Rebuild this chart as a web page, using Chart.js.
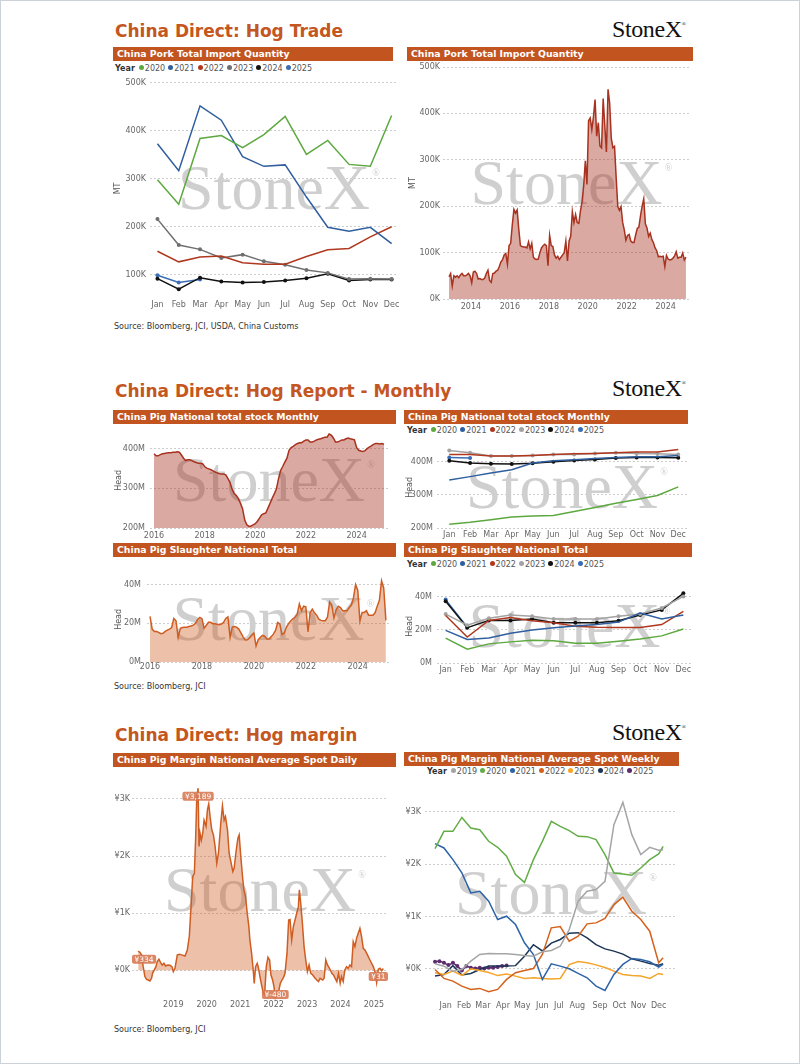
<!DOCTYPE html>
<html><head><meta charset="utf-8">
<title>China Direct: Hog</title>
<script src="https://cdn.jsdelivr.net/npm/chart.js@4.4.1/dist/chart.umd.min.js"></script>
<style>
html,body{margin:0;padding:0;background:#fff}
body{position:relative;width:800px;height:1064px;overflow:hidden;font-family:'DejaVu Sans',sans-serif}
#frame{position:absolute;left:0;top:0;width:798px;height:1062px;border:1px solid #cdd2da}
.ttl{position:absolute;left:115px;height:20px;line-height:20px;font-weight:bold;font-size:17px;color:#c4561f;white-space:nowrap}
.logo{position:absolute;left:612px;height:26px;line-height:26px;font-family:'Liberation Serif',serif;font-size:24px;color:#111;letter-spacing:-0.4px}
.logo span{font-size:6px;vertical-align:top;line-height:16px}
.bar{position:absolute;height:14px;line-height:14px;background:#c2541f;color:#fff;font-weight:bold;font-size:9.3px;padding-left:4px;box-sizing:border-box;white-space:nowrap;overflow:hidden}
.lg{position:absolute;height:10px;line-height:10px;font-size:8px;color:#555;white-space:nowrap}
.lg b{color:#333;margin-right:1px}
.lg i{display:inline-block;width:5px;height:5px;border-radius:50%;margin:0 1px 0 3px;vertical-align:1px}
.src{position:absolute;left:114px;height:11px;line-height:11px;font-size:8px;color:#333;white-space:nowrap}
canvas{position:absolute}
</style></head><body>
<div id="frame"></div>

<div class="ttl" style="top:21px">China Direct: Hog Trade</div>
<div class="logo" style="top:16px">StoneX<span>®</span></div>
<div class="bar" style="left:113px;top:47px;width:280px">China Pork Total Import Quantity</div>
<div class="bar" style="left:407px;top:47px;width:286px">China Pork Total Import Quantity</div>
<div class="lg" id="lgImp" style="left:115px;top:64px"></div>
<canvas id="cImp"></canvas>
<canvas id="cImpM"></canvas>
<div class="src" style="top:321px">Source: Bloomberg, JCI, USDA, China Customs</div>

<div class="ttl" style="top:381px">China Direct: Hog Report - Monthly</div>
<div class="logo" style="top:375px">StoneX<span>®</span></div>
<div class="bar" style="left:113px;top:410px;width:283px">China Pig National total stock Monthly</div>
<div class="bar" style="left:404px;top:410px;width:284px">China Pig National total stock Monthly</div>
<div class="lg" id="lgStock" style="left:407px;top:426px"></div>
<canvas id="cStock"></canvas>
<canvas id="cStockY"></canvas>
<div class="bar" style="left:113px;top:543px;width:283px">China Pig Slaughter National Total</div>
<div class="bar" style="left:404px;top:543px;width:288px">China Pig Slaughter National Total</div>
<div class="lg" id="lgSl" style="left:407px;top:560px"></div>
<canvas id="cSl"></canvas>
<canvas id="cSlY"></canvas>
<div class="src" style="top:681px">Source: Bloomberg, JCI</div>

<div class="ttl" style="top:725px">China Direct: Hog margin</div>
<div class="logo" style="top:719px">StoneX<span>®</span></div>
<div class="bar" style="left:113px;top:753px;width:283px">China Pig Margin National Average Spot Daily</div>
<div class="bar" style="left:404px;top:752px;width:275px">China Pig Margin National Average Spot Weekly</div>
<div class="lg" id="lgWk" style="left:427px;top:767px"></div>
<canvas id="cDaily"></canvas>
<canvas id="cWeekly"></canvas>
<div class="src" style="top:1024px">Source: Bloomberg, JCI</div>

<script>
Chart.defaults.font.family = '"DejaVu Sans", sans-serif';
Chart.defaults.font.size = 8;
Chart.defaults.color = '#666';

const months = ['Jan','Feb','Mar','Apr','May','Jun','Jul','Aug','Sep','Oct','Nov','Dec'];
const monthPos = [0,1,2,3,4,5,6,7,8,9,10,11];

// pork import quantity, thousand MT
const imp2013 = [48,55,28,50,47,50,46,52,55,50,50,52];
const imp2014 = [55,50,35,58,60,55,43,44,42,42,45,55];
const imp2015 = [62,40,36,55,56,60,62,70,80,85,95,98];
const imp2016 = [75,115,120,160,193,185,192,150,115,113,112,112];
const imp2017 = [110,123,108,120,90,86,85,86,100,110,115,118];
const imp2018 = [115,72,137,115,113,95,88,92,85,90,95,100];
const imp2019 = [125,82,125,135,188,165,182,165,163,190,210,245];
const imp2020 = [298,247,384,390,365,392,430,351,380,330,326,432];
const imp2021 = [373,317,452,422,346,326,329,262,199,191,199,165];
const imp2022 = [149,127,137,139,125,122,122,138,152,155,179,200];
const imp2023 = [216,162,153,135,142,128,121,110,104,91,92,91];
const imp2024 = [92,70,94,86,84,85,88,93,102,88,90,90];
const imp2025 = [99,84,90];
const impTicks = [100,200,300,400,500];
const impMTicks = [0,100,200,300,400,500];
const impYearPos = [13.5,37.5,61.5,85.5,109.5,133.5];
const impYearLabels = ['2014','2016','2018','2020','2022','2024'];

// pig stock, million head
const stock2016 = [387,382,382,385,387,388,389,390,390,391,391,392];
const stock2017 = [391,384,376,370,372,372,370,367,365,363,363,362];
const stock2018 = [355,351,349,347,344,341,339,337,336,336,334,325];
const stock2019 = [315,298,287,282,274,262,248,220,208,204,205,208];
const stock2020 = [211,217,225,233,236,238,250,262,275,286,298,324];
const stock2021 = [345,355,366,376,396,403,406,410,413,415,415,419];
const stock2022 = [422,422,417,417,419,422,424,425,427,429,429,437];
const stock2023 = [434,427,417,417,419,422,422,425,427,425,424,422];
const stock2024 = [403,396,394,393,395,400,404,407,411,413,413,412];
const stock2025 = [413,411];
const stockTicks = [200,300,400];

// slaughter, million head
const sl2016 = [23.5,17,15.7,15.7,15.3,14.6,14.8,15.8,16.5,17,17.8,22.5];
const sl2017 = [21.3,12.7,17.4,17.8,18,18,18.3,18.6,19,20,22,23];
const sl2018 = [22.3,17.4,19,20.5,20.5,19.8,19.7,19.5,19.3,19.6,20.5,22.5];
const sl2019 = [23.3,12.7,18,18.3,18,17,15,13,11.4,11.5,12.5,14];
const sl2020 = [15.0,8.3,11.5,12.7,13.7,13.3,11.9,11.9,13.1,14.4,16.3,20.4];
const sl2021 = [19.6,14.2,15.0,17.9,19.8,21.2,22.3,23.1,24.6,30.0,26.5,28.8];
const sl2022 = [28.5,15.6,25.6,27.3,25.4,24.2,22.1,21.5,21.3,21.3,23.1,31.0];
const sl2023 = [29.4,22.7,26.9,28.8,28.1,26.5,26.5,26.5,28.1,29.4,33.1,40.0];
const sl2024 = [37.1,21.2,25.6,25.6,26.5,24.2,24.2,24.2,25.4,28.8,31.9,41.9];
const sl2025 = [38.1,21.5];
const slTicks = [0,20,40];

const yearPos16 = [0,24,48,72,96];
const yearLabels16 = ['2016','2018','2020','2022','2024'];

// daily margin, yuan/head (date as decimal year)
const marginDates = [
  2017.95,2018.00,2018.05,2018.10,2018.15,2018.20,2018.25,2018.30,2018.35,2018.38,
  2018.42,2018.48,2018.52,2018.57,2018.62,2018.67,2018.72,2018.77,2018.83,2018.90,
  2018.96,2019.00,2019.05,2019.12,2019.18,2019.25,2019.35,2019.42,2019.48,2019.53,
  2019.58,2019.63,2019.67,2019.70,2019.74,2019.77,2019.80,2019.84,2019.88,2019.92,
  2019.98,2020.02,2020.06,2020.10,2020.15,2020.20,2020.25,2020.30,2020.35,2020.42,
  2020.47,2020.52,2020.56,2020.62,2020.67,2020.73,2020.78,2020.82,2020.87,2020.93,
  2020.97,2021.01,2021.07,2021.11,2021.16,2021.21,2021.26,2021.29,2021.34,2021.39,
  2021.42,2021.46,2021.51,2021.55,2021.59,2021.64,2021.69,2021.73,2021.78,2021.83,
  2021.88,2021.92,2021.97,2022.01,2022.05,2022.09,2022.14,2022.20,2022.25,2022.30,
  2022.34,2022.40,2022.45,2022.49,2022.54,2022.59,2022.64,2022.69,2022.74,2022.77,
  2022.81,2022.86,2022.91,2022.96,2023.01,2023.06,2023.11,2023.17,2023.24,2023.29,
  2023.34,2023.39,2023.47,2023.51,2023.56,2023.61,2023.67,2023.74,2023.79,2023.84,
  2023.89,2023.94,2023.99,2024.03,2024.08,2024.13,2024.18,2024.23,2024.28,2024.33,
  2024.38,2024.43,2024.48,2024.53,2024.58,2024.63,2024.68,2024.73,2024.78,2024.83,
  2024.88,2024.93,2024.98,2025.03,2025.08,2025.13,2025.18,2025.23,2025.28];
const marginValues = [
  334,315,270,64,-110,-158,-170,-187,-140,-53,
  -6,64,152,193,134,93,123,76,93,88,
  64,-23,35,270,280,270,251,356,600,1115,
  1640,1700,2340,2985,3189,2170,2400,2280,2400,2630,
  2520,2810,2915,2690,2460,2370,2170,1875,2050,2575,
  2880,2630,2690,2460,2050,1875,1730,1790,2050,2310,
  2370,2050,1640,1410,1290,1000,765,530,300,6,
  -228,64,123,35,-110,-257,-400,-430,64,228,
  181,-82,-170,-286,-480,-430,-400,-228,-170,-120,
  -53,300,880,890,530,765,880,1000,1115,1410,
  1175,825,415,181,-23,93,-53,-82,-140,-170,
  -198,-140,-170,-140,181,93,35,-53,-82,-140,
  -198,-53,-228,-110,-198,6,64,35,93,64,
  500,415,560,650,735,590,385,356,300,240,
  181,123,64,-23,-216,18,35,-6,31];
const marginTicks = [0,1000,2000,3000];
const dailyYearPos = [2019,2020,2021,2022,2023,2024,2025];

// weekly margin by year, yuan/head
const weeks = [1,3,5,7,9,11,13,15,17,19,21,23,25,27,29,31,33,35,37,39,41,43,45,47,49,51,52];
const wk2019 = [95,50,-45,-13,146,273,292,286,286,273,254,241,324,350,432,750,1290,1481,1513,1672,2753,3179,2562,2180,2320,2263,2276];
const wk2020 = [2295,2625,2625,2892,2689,2657,2435,2320,2149,1799,1650,2085,2435,2816,2721,2638,2530,2524,2467,2180,1831,1812,1786,1926,2085,2193,2339];
const wk2021 = [2390,2308,2085,1831,1450,1481,1290,941,1004,845,496,273,-203,95,51,0,-89,-172,-331,-413,-108,83,197,178,133,32,83];
const wk2022 = [-13,-184,-235,-331,-394,-375,-439,-394,-203,-76,-32,6,273,782,807,528,623,858,877,960,1227,1367,1100,941,718,114,210];
const wk2023 = [-76,-108,-45,-127,0,-32,-70,-130,-100,-140,-184,-172,-184,-195,-185,80,140,114,75,25,-45,-108,-127,-140,-184,-89,-108];
const wk2024 = [-140,-108,60,-120,-90,-13,51,51,51,60,241,460,340,490,560,680,690,590,460,380,337,280,190,146,100,70,95];
const weeks2025 = [1,2,3,4,5,6,7,8,9,10,11,12,13,14,15,16,17];
const wk2025 = [133,146,114,70,114,51,-32,51,19,6,19,6,19,19,32,51,64];
const monthWeekPos = [3.4,7.5,11.7,16.2,20.5,25,28.7,32.8,37.9,42.2,46.5,51];

// colours
const COL = { '2020': '#5da83f', '2021': '#2f5f9f', '2022': '#b0381f', '2023': '#6f6f6f', '2024': '#111111', '2025': '#3a6db3' };
const COL_MID = Object.assign({}, COL, { '2023': '#a3a3a3' });
const COL_WK = { '2019': '#a5a5a5', '2020': '#62ad46', '2021': '#2e63a8', '2022': '#d4621c', '2023': '#f4a52a', '2024': '#1d3557', '2025': '#5d2b6e' };
const RED = '#a8321f', RED_FILL = 'rgba(168,50,31,0.42)';
const ORG = '#cf5d22', ORG_FILL = 'rgba(207,93,34,0.39)';

const $ = s => document.querySelector(s);
const K = v => v + 'K', M = v => v + 'M', Y = v => '¥' + v / 1000 + 'K';
const idx = arr => arr.map((v, i) => ({ x: i, y: v }));
const zip = (xs, ys) => ys.map((v, i) => ({ x: xs[i], y: v }));

function legend(id, years, cols) {
  $(id).innerHTML = '<b>Year</b>' + years.map(y => `<i style="background:${cols[y]}"></i>${y}`).join('');
}

// watermark in the middle of each plot
const watermark = {
  id: 'wm',
  beforeDatasetsDraw(chart) {
    const { ctx, chartArea: a } = chart;
    const cx = (a.left + a.right) / 2, cy = (a.top + a.bottom) / 2;
    ctx.save();
    ctx.fillStyle = '#cfcfcf';
    ctx.font = '64px "Liberation Serif"';
    ctx.textAlign = 'center'; ctx.textBaseline = 'alphabetic';
    ctx.fillText('StoneX', cx, cy + 21);
    const w = ctx.measureText('StoneX').width;
    ctx.font = '10px "Liberation Serif"';
    ctx.fillText('®', cx + w / 2 + 6, cy - 12);
    ctx.restore();
  }
};

// Tableau style value boxes: first, last, max, min
const markLabels = {
  id: 'marks',
  afterDatasetsDraw(chart) {
    const meta = chart.getDatasetMeta(0);
    const ys = chart.data.datasets[0].data.map(p => p.y);
    const picks = new Set([0, ys.length - 1, ys.indexOf(Math.max(...ys)), ys.indexOf(Math.min(...ys))]);
    const { ctx, chartArea: a } = chart;
    ctx.save();
    ctx.font = '7.5px "DejaVu Sans"'; ctx.textAlign = 'center'; ctx.textBaseline = 'middle';
    picks.forEach(i => {
      const el = meta.data[i];
      const txt = '¥' + ys[i].toLocaleString('en-US');
      const w = ctx.measureText(txt).width + 5, h = 9;
      const x = Math.min(Math.max(el.x, a.left + w / 2), a.right - w / 2);
      const y = Math.min(el.y + 8, a.bottom - h / 2 - 1);
      ctx.fillStyle = 'rgba(214,118,80,0.88)';
      ctx.beginPath();
      if (ctx.roundRect) ctx.roundRect(x - w / 2, y - h / 2, w, h, 2); else ctx.rect(x - w / 2, y - h / 2, w, h);
      ctx.fill();
      ctx.fillStyle = '#fff';
      ctx.fillText(txt, x, y + 0.5);
    });
    ctx.restore();
  }
};

// b: plot box in page px + axis sizes; s: scale setup
function make(id, b, s, datasets, plugins) {
  const cv = document.getElementById(id);
  const w = Math.round(b.r - b.l + b.yw + b.pr), h = Math.round(b.b - b.t + b.pt + b.xh);
  cv.width = w; cv.height = h;
  cv.style.width = w + 'px'; cv.style.height = h + 'px';
  cv.style.left = (b.l - b.yw) + 'px'; cv.style.top = (b.t - b.pt) + 'px';
  return new Chart(cv, {
    type: 'line',
    data: { datasets },
    options: {
      responsive: false, animation: false,
      layout: { padding: { top: b.pt, right: b.pr, left: 0, bottom: 0 } },
      plugins: { legend: { display: false }, tooltip: { enabled: false } },
      elements: { line: { borderWidth: 1.5, tension: 0 }, point: { radius: 0, borderWidth: 0 } },
      scales: {
        x: {
          type: 'linear', min: s.xmin, max: s.xmax,
          grid: { display: false, drawTicks: false }, border: { display: false },
          afterFit: sc => { sc.height = b.xh; },
          afterBuildTicks: sc => { sc.ticks = s.xpos.map(v => ({ value: v })); },
          ticks: { autoSkip: false, maxRotation: 0, padding: b.xp, callback: (v, i) => s.xlab[i] }
        },
        y: {
          min: s.ymin, max: s.ymax,
          grid: { color: '#cdcdcd', lineWidth: 1, drawTicks: false }, border: { display: false, dash: [2, 2] },
          afterFit: sc => { sc.width = b.yw; },
          afterBuildTicks: sc => { sc.ticks = s.ypos.map(v => ({ value: v })); },
          ticks: { autoSkip: false, padding: b.yp, callback: s.yfmt },
          title: s.ytitle ? { display: true, text: s.ytitle, color: '#555', padding: { top: 1, bottom: 0 } } : { display: false }
        }
      }
    },
    plugins: [watermark].concat(plugins || [])
  });
}

function yearSets(rows, cols) {
  return rows.map(([yr, vals]) => ({
    label: yr, data: idx(vals), borderColor: cols[yr], backgroundColor: cols[yr], fill: false,
    pointRadius: ['2023', '2024', '2025'].includes(yr) ? 2 : 0, pointBorderWidth: 0
  }));
}

// ---- section 1 ----
legend('#lgImp', ['2020','2021','2022','2023','2024','2025'], COL);
make('cImp', { l: 150, t: 82, r: 398, b: 294, yw: 38, pt: 8, pr: 10, xh: 18, xp: 6, yp: 4 },
  { xmin: -0.35, xmax: 11.3, xpos: monthPos, xlab: months, ymin: 60, ymax: 500, ypos: impTicks, yfmt: K, ytitle: 'MT' },
  yearSets([['2020', imp2020], ['2021', imp2021], ['2022', imp2022], ['2023', imp2023], ['2024', imp2024], ['2025', imp2025]], COL));

const impAll = [].concat(imp2013, imp2014, imp2015, imp2016, imp2017, imp2018, imp2019, imp2020, imp2021, imp2022, imp2023, imp2024, imp2025);
make('cImpM', { l: 443, t: 67, r: 690, b: 299, yw: 36, pt: 8, pr: 10, xh: 16, xp: 3, yp: 3 },
  { xmin: -3.7, xmax: 148.5, xpos: impYearPos, xlab: impYearLabels, ymin: 0, ymax: 500, ypos: impMTicks, yfmt: K, ytitle: 'MT' },
  [{ data: idx(impAll), borderColor: RED, backgroundColor: RED_FILL, fill: 'origin' }]);

// ---- section 2 ----
const stockAll = [].concat(stock2016, stock2017, stock2018, stock2019, stock2020, stock2021, stock2022, stock2023, stock2024, stock2025);
make('cStock', { l: 150, t: 431, r: 388, b: 528, yw: 37, pt: 8, pr: 10, xh: 16, xp: 3, yp: 5 },
  { xmin: -1.9, xmax: 110.9, xpos: yearPos16, xlab: yearLabels16, ymin: 200, ymax: 440, ypos: stockTicks, yfmt: M, ytitle: 'Head' },
  [{ data: idx(stockAll), borderColor: RED, backgroundColor: RED_FILL, fill: 'start' }]);

legend('#lgStock', ['2020','2021','2022','2023','2024','2025'], COL_MID);
make('cStockY', { l: 437, t: 444, r: 687, b: 528, yw: 33, pt: 6, pr: 10, xh: 16, xp: 2, yp: 4 },
  { xmin: -0.59, xmax: 11.42, xpos: monthPos, xlab: months, ymin: 200, ymax: 445, ypos: stockTicks, yfmt: M, ytitle: 'Head' },
  yearSets([['2020', stock2020], ['2021', stock2021], ['2022', stock2022], ['2023', stock2023], ['2024', stock2024], ['2025', stock2025]], COL_MID));

const slAll = [].concat(sl2016, sl2017, sl2018, sl2019, sl2020, sl2021, sl2022, sl2023, sl2024, sl2025);
make('cSl', { l: 147, t: 574, r: 390, b: 662, yw: 34, pt: 8, pr: 10, xh: 14, xp: 0, yp: 6 },
  { xmin: -1.4, xmax: 110.9, xpos: yearPos16, xlab: yearLabels16, ymin: 0, ymax: 44, ypos: slTicks, yfmt: M, ytitle: 'Head' },
  [{ data: idx(slAll), borderColor: ORG, backgroundColor: ORG_FILL, fill: 'origin' }]);

legend('#lgSl', ['2020','2021','2022','2023','2024','2025'], COL_MID);
make('cSlY', { l: 437, t: 586, r: 692, b: 663, yw: 33, pt: 6, pr: 8, xh: 16, xp: 2, yp: 5 },
  { xmin: -0.4, xmax: 11.4, xpos: monthPos, xlab: months, ymin: 0, ymax: 44, ypos: slTicks, yfmt: M, ytitle: 'Head' },
  yearSets([['2020', sl2020], ['2021', sl2021], ['2022', sl2022], ['2023', sl2023], ['2024', sl2024], ['2025', sl2025]], COL_MID));

// ---- section 3 ----
make('cDaily', { l: 132, t: 779, r: 388, b: 1000, yw: 24, pt: 8, pr: 10, xh: 16, xp: 0, yp: 2 },
  { xmin: 2017.765, xmax: 2025.42, xpos: dailyYearPos, xlab: dailyYearPos.map(String), ymin: -520, ymax: 3350, ypos: marginTicks, yfmt: Y },
  [{ data: zip(marginDates, marginValues), borderColor: ORG, backgroundColor: ORG_FILL, fill: 'origin' }],
  [markLabels]);

legend('#lgWk', ['2019','2020','2021','2022','2023','2024','2025'], COL_WK);
const wkRows = [['2019', wk2019], ['2020', wk2020], ['2021', wk2021], ['2022', wk2022], ['2023', wk2023], ['2024', wk2024]];
const wkSets = wkRows.map(([yr, vals]) => ({ label: yr, data: zip(weeks, vals), borderColor: COL_WK[yr], fill: false }));
wkSets.push({ label: '2025', data: zip(weeks2025, wk2025), borderColor: COL_WK['2025'], backgroundColor: COL_WK['2025'], pointRadius: 2, fill: false });
make('cWeekly', { l: 425, t: 789.5, r: 677, b: 995, yw: 24, pt: 8, pr: 8, xh: 18, xp: 5, yp: 4 },
  { xmin: -1.24, xmax: 55.1, xpos: monthWeekPos, xlab: months, ymin: -520, ymax: 3400, ypos: marginTicks, yfmt: Y },
  wkSets);
</script>
</body></html>
